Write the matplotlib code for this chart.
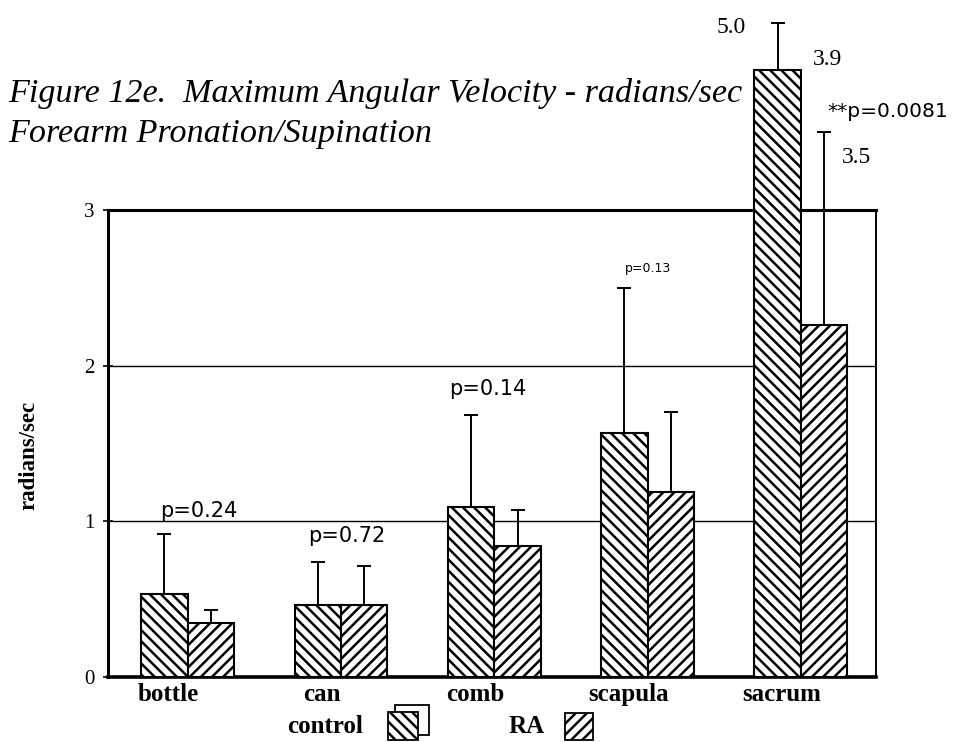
import numpy as np
import matplotlib
matplotlib.use("Agg")
import matplotlib.pyplot as plt
from matplotlib.patches import Rectangle

# Maximum angular velocity (radians/sec), forearm pronation/supination
tasks = ["bottle", "can", "comb", "scapula", "sacrum"]
control_mean = [0.53, 0.46, 1.09, 1.57, 3.9]
control_upper = [0.92, 0.74, 1.68, 2.50, 5.0]
ra_mean = [0.35, 0.46, 0.84, 1.19, 2.26]
ra_upper = [0.43, 0.71, 1.07, 1.70, 3.5]
p_labels = ["p=0.24", "p=0.72", "p=0.14", "p=0.13", "**p=0.0081"]
y_ticks = [0, 1, 2, 3]

SERIF = "Liberation Serif"
SANS = "DejaVu Sans"
plt.rcParams["hatch.linewidth"] = 1.8

W, H = 960, 742
fig = plt.figure(figsize=(W / 100, H / 100), dpi=100)
ax = fig.add_axes([108 / W, 1 - 677 / H, 768 / W, 467 / H])

x = np.arange(len(tasks))
bw = 0.303
whisker_ceiling = 4.2  # whiskers beyond the page are cut here

ax.set_xlim(-0.52, 4.49)
ax.set_ylim(0, 3)

# gridlines at 1 and 2
for yv in y_ticks[1:-1]:
    ax.axhline(yv, color="black", lw=1.0, zorder=1)

bars_c = ax.bar(x - bw / 2, control_mean, bw, facecolor="white",
                edgecolor="black", hatch="\\\\\\", linewidth=1.5,
                zorder=3, clip_on=False)
bars_r = ax.bar(x + bw / 2, ra_mean, bw, facecolor="white",
                edgecolor="black", hatch="///", linewidth=1.5,
                zorder=3, clip_on=False)

def whiskers(xpos, mean, upper):
    mean = np.asarray(mean)
    top = np.minimum(np.asarray(upper), whisker_ceiling)
    eb = ax.errorbar(xpos, mean, yerr=[np.zeros_like(mean), top - mean],
                     fmt="none", ecolor="black", elinewidth=1.4,
                     capsize=5, capthick=1.4, zorder=2)
    for art in eb.get_children():
        art.set_clip_on(False)

whiskers(x - bw / 2, control_mean, control_upper)
whiskers(x + bw / 2, ra_mean, ra_upper)

# axes frame
for side, lw in [("top", 2.2), ("left", 2.2), ("bottom", 2.6), ("right", 1.4)]:
    ax.spines[side].set_linewidth(lw)
    ax.spines[side].set_color("black")

ax.set_yticks(y_ticks)
ax.set_yticklabels([str(v) for v in y_ticks], fontfamily=SERIF, fontsize=15)
ax.tick_params(axis="y", direction="inout", length=7, width=1.2, pad=6)
ax.set_xticks(x - 0.125)
ax.set_xticklabels(tasks, fontfamily=SERIF, fontweight="bold", fontsize=18)
ax.tick_params(axis="x", length=0, pad=4)
ax.set_ylabel("radians/sec", fontfamily=SERIF, fontweight="bold",
              fontsize=16.5)
ax.yaxis.set_label_coords(-0.089, 0.475)

# significance labels
p_pos = [(0.07, 1.03, 15), (0.04, 0.87, 15), (-0.04, 1.81, 15),
         (0.0, 2.60, 9)]
for lab, (dx, yy, fs) in zip(p_labels[:4], p_pos):
    i = p_labels.index(lab)
    ax.text(x[i] + dx, yy, lab, ha="center", va="baseline",
            fontfamily=SANS, fontsize=fs, clip_on=False)
ax.text(x[4] + 0.17, 3.6, p_labels[4], ha="left", va="baseline",
        fontfamily=SANS, fontsize=14.5, clip_on=False)

# values written beside the sacrum bars
ax.text(x[4] - 0.36, 4.14, f"{control_upper[4]:.1f}", ha="right",
        va="baseline", fontfamily=SERIF, fontsize=17, clip_on=False)
ax.text(x[4] + 0.08, 3.93, f"{control_mean[4]:.1f}", ha="left",
        va="baseline", fontfamily=SERIF, fontsize=17, clip_on=False)
ax.text(x[4] + 0.27, 3.30, f"{ra_upper[4]:.1f}", ha="left",
        va="baseline", fontfamily=SERIF, fontsize=17, clip_on=False)

# overlay in pixel units for the caption and the key
ov = fig.add_axes([0, 0, 1, 1], facecolor="none")
ov.set_xlim(0, W)
ov.set_ylim(H, 0)
ov.axis("off")

ov.text(8, 102, "Figure 12e.  Maximum Angular Velocity - radians/sec",
        fontfamily=SERIF, style="italic", fontsize=24.6, va="baseline")
ov.text(8, 142, "Forearm Pronation/Supination",
        fontfamily=SERIF, style="italic", fontsize=24.6, va="baseline")

ov.text(363, 733, "control", ha="right", va="baseline", fontfamily=SERIF,
        fontweight="bold", fontsize=18)
ov.add_patch(Rectangle((395, 705), 34, 30, facecolor="white",
                       edgecolor="black", lw=1.3, zorder=1))
ov.add_patch(Rectangle((388, 712), 30, 28, facecolor="white",
                       edgecolor="black", lw=1.3, hatch="\\\\\\", zorder=2))
ov.text(545, 733, "RA", ha="right", va="baseline", fontfamily=SERIF,
        fontweight="bold", fontsize=18)
ov.add_patch(Rectangle((565, 713), 28, 27, facecolor="white",
                       edgecolor="black", lw=1.3, hatch="///", zorder=2))

fig.savefig("out.png", dpi=100)
